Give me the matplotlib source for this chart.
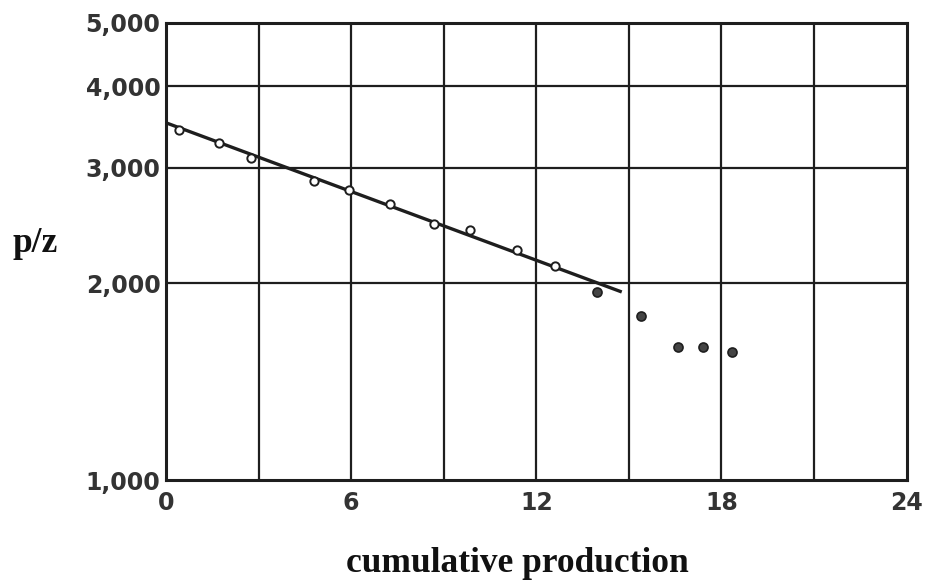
import numpy as np
import matplotlib.pyplot as plt
from matplotlib.ticker import FixedLocator, NullLocator

# p/z readings vs cumulative production
cum_prod = [0.42, 1.72, 2.76, 4.81, 5.94, 7.27, 8.70, 9.84, 11.36, 12.60,
            13.96, 15.39, 16.59, 17.40, 18.34]
pz = [3425, 3273, 3104, 2862, 2774, 2641, 2461, 2410, 2246, 2123,
      1938, 1781, 1597, 1597, 1569]
n_open = 10  # first points drawn as open circles, the rest filled

# straight-line fit drawn through the early data
fit_x = [0.0, 14.77]
fit_y = [3515, 1938]

x_ticks = [0, 6, 12, 18, 24]
x_grid = [3, 6, 9, 12, 15, 18, 21]
y_ticks = [1000, 2000, 3000, 4000, 5000]
y_labels = ["1,000", "2,000", "3,000", "4,000", "5,000"]

ink = "#1e1e1e"

fig = plt.figure(figsize=(9.27, 5.8), dpi=100)
ax = fig.add_axes([0.179, 0.1724, 0.799, 0.7886])

ax.set_yscale("log")
ax.set_xlim(0, 24)
ax.set_ylim(1000, 5000)

for gx in x_grid:
    ax.axvline(gx, color=ink, lw=1.6, zorder=1)
for gy in y_ticks[1:-1]:
    ax.axhline(gy, color=ink, lw=1.6, zorder=1)

ax.plot(fit_x, fit_y, color=ink, lw=2.4, solid_capstyle="butt", zorder=3)

ax.plot(cum_prod[:n_open], pz[:n_open], "o", ms=6, mfc="white",
        mec=ink, mew=1.4, zorder=4)
ax.plot(cum_prod[n_open:], pz[n_open:], "o", ms=6.5, mfc="#444444",
        mec=ink, mew=1.2, zorder=4)

ax.yaxis.set_major_locator(FixedLocator(y_ticks))
ax.yaxis.set_minor_locator(NullLocator())
ax.set_yticklabels(y_labels)
ax.set_xticks(x_ticks)
ax.tick_params(axis="both", length=0, labelsize=17, labelcolor="#333333")
ax.tick_params(axis="y", pad=4)
ax.tick_params(axis="x", pad=8)
for lab in ax.get_xticklabels() + ax.get_yticklabels():
    lab.set_fontweight("bold")

for sp in ax.spines.values():
    sp.set_linewidth(2.2)
    sp.set_color(ink)

fig.text(517 / 927, 1 - 572 / 580, "cumulative production",
         family="Liberation Serif", weight="bold", fontsize=25.5,
         ha="center", va="baseline", color="#111111")
fig.text(35 / 927, 1 - 243 / 580, "p/z",
         family="Liberation Serif", weight="bold", fontsize=25.5,
         ha="center", va="center", color="#111111")

fig.savefig("out.png", dpi=100)
